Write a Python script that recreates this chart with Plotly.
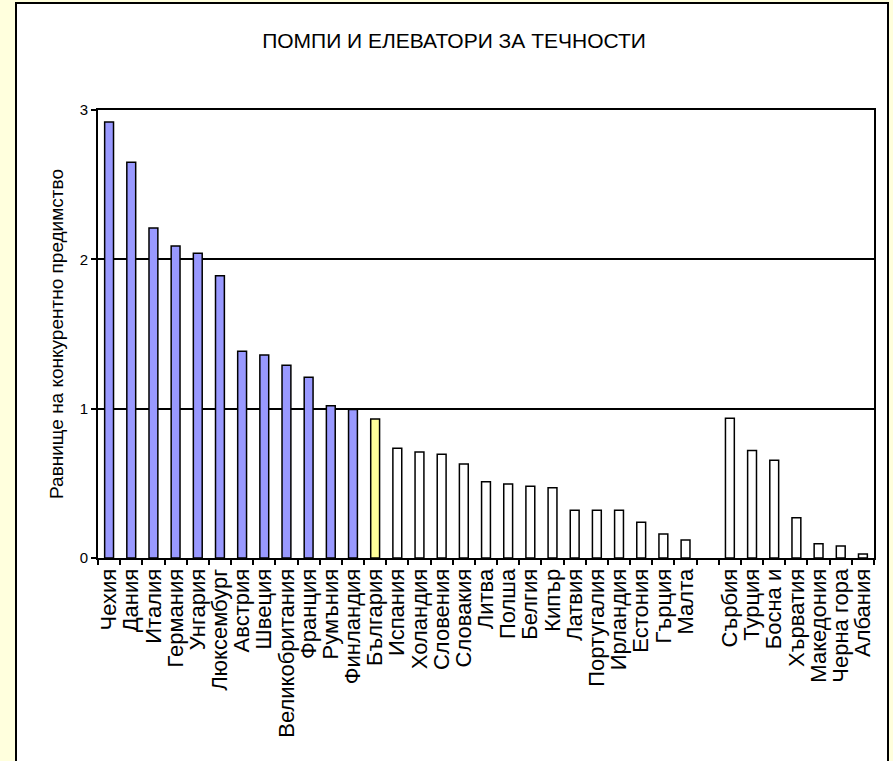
import plotly.graph_objects as go

countries = ["Чехия", "Дания", "Италия", "Германия", "Унгария", "Люксембург", "Австрия",
             "Швеция", "Великобритания", "Франция", "Румъния", "Финландия", "България",
             "Испания", "Холандия", "Словения", "Словакия", "Литва", "Полша", "Белгия",
             "Кипър", "Латвия", "Португалия", "Ирландия", "Естония", "Гърция", "Малта",
             " ", "Сърбия", "Турция", "Босна и", "Хърватия", "Македония", "Черна гора", "Албания"]
values = [2.92, 2.65, 2.21, 2.09, 2.04, 1.89, 1.385,
          1.36, 1.29, 1.21, 1.02, 0.995, 0.93,
          0.735, 0.71, 0.695, 0.63, 0.51, 0.495, 0.48,
          0.47, 0.32, 0.32, 0.32, 0.24, 0.16, 0.12,
          None, 0.935, 0.72, 0.655, 0.27, 0.095, 0.08, 0.027]
groups = ["eu"] * 12 + ["bg"] + ["other"] * 14 + ["gap"] + ["other"] * 7
group_colors = {"eu": "#9999FF", "bg": "#FFFF99", "other": "#FFFFFF", "gap": "#FFFFFF"}

title_text = "ПОМПИ И ЕЛЕВАТОРИ ЗА ТЕЧНОСТИ"
y_title = "Равнище на конкурентно предимство"
y_ticks = [0, 1, 2, 3]

fig = go.Figure()
fig.add_trace(go.Bar(
    x=countries, y=values, width=0.4,
    marker=dict(color=[group_colors[g] for g in groups], line=dict(color="black", width=1.5)),
    showlegend=False,
))

W, H = 893, 761
L, R, T, B = 98, 19, 110, 203
pw, ph = W - L - R, H - T - B

def px_x(x):
    return (x - L) / pw

def px_y(y):
    return (H - B - y) / ph

fig.add_shape(type="rect", xref="paper", yref="paper",
              x0=px_x(16), x1=px_x(888), y0=px_y(800), y1=px_y(3),
              fillcolor="white", line=dict(color="black", width=2), layer="below")

fig.update_layout(
    width=W, height=H,
    margin=dict(l=L, r=R, t=T, b=B, autoexpand=False),
    paper_bgcolor="#FFFFDD", plot_bgcolor="rgba(0,0,0,0)",
    font=dict(family="Liberation Sans, Arial, sans-serif", color="black"),
    title=dict(text=title_text, xref="container", x=454 / W, xanchor="center",
               yref="container", y=1 - 41 / H, yanchor="middle",
               font=dict(size=21)),
    bargap=0.6,
)
fig.update_xaxes(type="category", categoryorder="array", categoryarray=countries,
                 tickmode="array", tickvals=countries, ticktext=countries,
                 tickson="boundaries", ticks="outside", ticklen=5, tickcolor="black", tickwidth=1.5,
                 tickangle=-90, tickfont=dict(size=22), showline=True, linecolor="black",
                 linewidth=2, mirror=True, showgrid=False)
fig.update_yaxes(range=[0, 3], tickvals=y_ticks, ticks="outside", ticklen=5, tickcolor="black",
                 tickwidth=1.5, tickfont=dict(size=15), showline=True, linecolor="black",
                 linewidth=2, mirror=True, showgrid=True, gridcolor="black", gridwidth=1.5,
                 zeroline=False, title=dict(text=y_title, font=dict(size=19), standoff=11))

fig.write_html("out.html", config={"displayModeBar": False},
               post_script="document.body.style.margin='0';")
